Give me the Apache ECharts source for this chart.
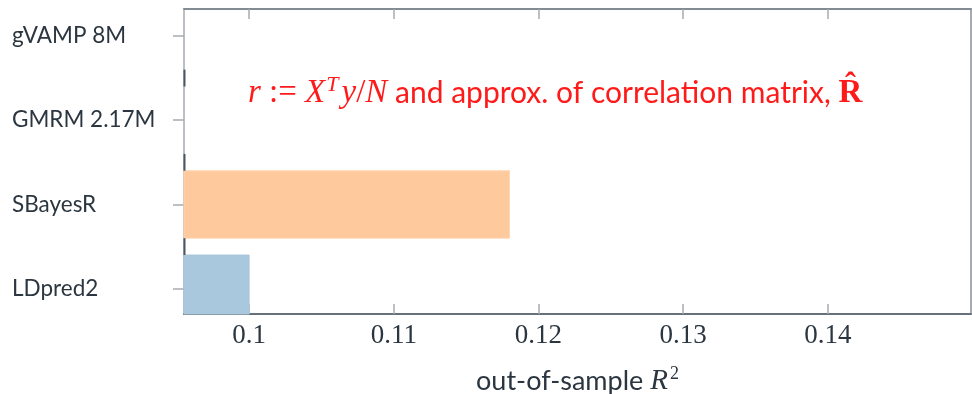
<!DOCTYPE html>
<html>
<head>
<meta charset="utf-8">
<script src="https://cdn.jsdelivr.net/npm/echarts@6/dist/echarts.min.js"></script>
<style>
  html, body { margin: 0; padding: 0; background: #ffffff; }
  #chart { width: 972px; height: 394px; }
</style>
</head>
<body>
<div id="chart"></div>
<script>
// ---- data ----
const categories = ['LDpred2', 'SBayesR', 'GMRM 2.17M', 'gVAMP 8M'];
const r2Values = [0.1, 0.118, null, null];
const barColors = ['#a9c7dd', '#ffc99e', '#ffc99e', '#a9c7dd'];
const xTicks = [0.1, 0.11, 0.12, 0.13, 0.14];
const xMin = 0.0955;
const xMax = 0.1499;
const yMin = -0.3;
const yMax = 3.32;

const chart = echarts.init(document.getElementById('chart'));

const barData = categories.map((c, i) => [r2Values[i], i]);
const gapData = categories.slice(1).map((c, i) => [xMin, i + 0.5]);

const labelColor = '#2b3640';
const axisDark = '#66717b';
const lightGrey = '#a6abb0';
const red = '#ff1a1a';

const option = {
  backgroundColor: '#ffffff',
  animation: false,
  grid: { left: 184, right: 1, top: 9, bottom: 80, outerBoundsMode: 'none', containLabel: false },
  xAxis: [
    {
      type: 'value', position: 'bottom', min: xMin, max: xMax,
      axisLine: { show: true, onZero: false, lineStyle: { color: axisDark, width: 2 } },
      axisTick: { show: true, inside: true, length: 10, customValues: xTicks,
                  lineStyle: { color: lightGrey, width: 1.5 } },
      axisLabel: { show: true, customValues: xTicks, margin: 8,
                   formatter: v => String(+v.toFixed(4)),
                   fontFamily: 'Liberation Serif', fontSize: 27, color: labelColor },
      splitLine: { show: false },
      name: '{t|out-of-sample }{r|R}{s|2}',
      nameLocation: 'middle', nameGap: 51,
      nameTextStyle: {
        rich: {
          t: { fontFamily: 'Lato', fontSize: 27, color: labelColor },
          r: { fontFamily: 'Liberation Serif', fontStyle: 'italic', fontSize: 29, color: labelColor },
          s: { fontFamily: 'Liberation Serif', fontSize: 18, color: labelColor, verticalAlign: 'top', padding: [0, 0, 14, 2] }
        }
      }
    },
    {
      type: 'value', position: 'top', min: xMin, max: xMax,
      axisLine: { show: true, onZero: false, lineStyle: { color: '#848c93', width: 2 } },
      axisTick: { show: true, inside: true, length: 10, customValues: xTicks,
                  lineStyle: { color: lightGrey, width: 1.5 } },
      axisLabel: { show: false },
      splitLine: { show: false }
    }
  ],
  yAxis: [
    {
      type: 'value', position: 'left', min: yMin, max: yMax,
      axisLine: { show: true, onZero: false, lineStyle: { color: lightGrey, width: 1.5 } },
      axisTick: { show: true, inside: false, length: 11, customValues: [0, 1, 2, 3],
                  lineStyle: { color: lightGrey, width: 1.5 } },
      axisLabel: { show: true, customValues: [0, 1, 2, 3], align: 'left', margin: 172,
                   formatter: v => categories[Math.round(v)] || '',
                   fontFamily: 'Lato', fontSize: 22.5, color: labelColor },
      splitLine: { show: false }
    },
    {
      type: 'value', position: 'right', min: yMin, max: yMax,
      axisLine: { show: true, onZero: false, lineStyle: { color: '#8a8f94', width: 1.5 } },
      axisTick: { show: false }, axisLabel: { show: false }, splitLine: { show: false }
    }
  ],
  series: [
    {
      type: 'custom',
      xAxisIndex: 0, yAxisIndex: 0,
      encode: { x: 0, y: 1 },
      data: barData,
      renderItem: function (params, api) {
        const v = api.value(0);
        const idx = api.value(1);
        if (v == null || isNaN(v)) return null;
        const p0 = api.coord([xMin, idx + 0.4]);
        const p1 = api.coord([v, idx - 0.4]);
        const cs = params.coordSys;
        const rect = echarts.graphic.clipRectByRect(
          { x: p0[0], y: p0[1], width: p1[0] - p0[0], height: p1[1] - p0[1] },
          { x: cs.x, y: cs.y, width: cs.width, height: cs.height }
        );
        if (!rect) return null;
        const fill = barColors[idx];
        return {
          type: 'rect', shape: rect,
          style: { fill: fill, stroke: idx === 1 ? '#ffd6b4' : fill, lineWidth: 1 }
        };
      },
      z: 2
    },
    {
      type: 'custom',
      xAxisIndex: 0, yAxisIndex: 0,
      encode: { x: 0, y: 1 },
      data: gapData,
      renderItem: function (params, api) {
        const a = api.coord([api.value(0), api.value(1) - 0.1]);
        const b = api.coord([api.value(0), api.value(1) + 0.1]);
        return {
          type: 'line',
          shape: { x1: a[0] + 0.5, y1: a[1], x2: b[0] + 0.5, y2: b[1] },
          style: { stroke: '#4a5866', lineWidth: 2 }
        };
      },
      z: 3
    }
  ],
  graphic: [
    {
      type: 'text', left: 248, top: 74,
      style: {
        text: '{m|r}{o| := }{m|X}{sup|T}{m|y}{o|/}{m|N}{t| and approx. of correlation matrix, }{b|R̂}',
        rich: {
          m: { fontFamily: 'Liberation Serif', fontStyle: 'italic', fontSize: 33, fill: red },
          o: { fontFamily: 'Liberation Serif', fontSize: 33, fill: red },
          sup: { fontFamily: 'Liberation Serif', fontStyle: 'italic', fontSize: 22, fill: red, verticalAlign: 'top', padding: [0, 3, 16, 1] },
          t: { fontFamily: 'Lato', fontSize: 30, fill: red },
          b: { fontFamily: 'Liberation Serif', fontWeight: 'bold', fontSize: 33, fill: red }
        }
      }
    }
  ]
};

chart.setOption(option);
</script>
</body>
</html>
